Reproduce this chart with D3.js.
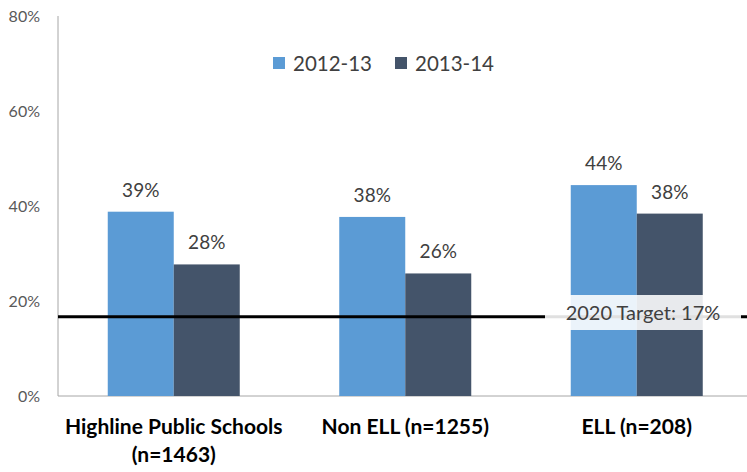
<!DOCTYPE html>
<html><head><meta charset="utf-8">
<script src="https://cdn.jsdelivr.net/npm/d3@7"></script>
<style>body{margin:0;background:#fff}svg{display:block}text{font-family:Lato,"Open Sans",sans-serif}</style>
</head><body>
<script>
const categories = [["Highline Public Schools","(n=1463)"],["Non ELL (n=1255)"],["ELL (n=208)"]];
const seriesNames = ["2012-13","2013-14"];
const values2012 = [38.8, 37.7, 44.4];
const values2013 = [27.7, 25.8, 38.4];
const yTicks = [0,20,40,60,80];
const targetValue = 17;
const targetLabel = "2020 Target: 17%";
const colors = ["#5B9BD5","#44546A"];

const W=747,H=472;
const svg=d3.select("body").append("svg").attr("width",W).attr("height",H);
const x0=58, y0=396, yTop=16;
const step=231.5;
const x=d3.scaleBand().domain(d3.range(categories.length)).range([x0,x0+step*categories.length]).paddingInner(0).paddingOuter(0);
const y=d3.scaleLinear().domain([0,80]).range([y0,yTop]);
const barW=66;
const xs=d3.scaleBand().domain(d3.range(2)).range([-barW,barW]);

// axes
svg.append("line").attr("x1",x0).attr("x2",x0).attr("y1",y(80)).attr("y2",y0).attr("stroke","#a6a6a6").attr("stroke-width",1);
svg.append("line").attr("x1",x0).attr("x2",W).attr("y1",y0).attr("y2",y0).attr("stroke","#a6a6a6").attr("stroke-width",1);
svg.selectAll(".yt").data(yTicks).enter().append("text").attr("x",40).attr("y",d=>y(d)+6)
 .attr("text-anchor","end").attr("font-size",16).attr("fill","#595959").text(d=>d+"%");

const data=[values2012,values2013];
data.forEach((vals,s)=>{
  const g=svg.append("g");
  g.selectAll("rect").data(vals).enter().append("rect")
   .attr("x",(d,i)=>x(i)+x.bandwidth()/2+xs(s)).attr("width",xs.bandwidth())
   .attr("y",d=>y(d)).attr("height",d=>y0-y(d)).attr("fill",colors[s]);
  g.selectAll("text").data(vals).enter().append("text")
   .attr("x",(d,i)=>x(i)+x.bandwidth()/2+xs(s)+xs.bandwidth()/2)
   .attr("y",d=>y(d)-15).attr("text-anchor","middle").attr("font-size",19).attr("fill","#404040")
   .text(d=>Math.round(d)+"%");
});

// target line
const ty=y(targetValue)+1.5;
svg.append("line").attr("x1",x0).attr("x2",W).attr("y1",ty).attr("y2",ty).attr("stroke","#000").attr("stroke-width",3);
svg.append("rect").attr("x",545).attr("y",295).attr("width",196).attr("height",35).attr("fill","#fff").attr("fill-opacity",0.88);
svg.append("text").attr("x",643).attr("y",ty+3).attr("text-anchor","middle").attr("font-size",20).attr("fill","#404040").text(targetLabel);

// category labels
categories.forEach((c,i)=>{
  const t=svg.append("text").attr("x",x(i)+x.bandwidth()/2).attr("y",434).attr("text-anchor","middle")
   .attr("font-size",21).attr("font-weight","bold").attr("fill","#000");
  c.forEach((line,j)=>t.append("tspan").attr("x",x(i)+x.bandwidth()/2).attr("dy",j?28:0).text(line));
});

// legend
const lg=[{x:273,t:seriesNames[0]},{x:395,t:seriesNames[1]}];
lg.forEach((l,i)=>{
  svg.append("rect").attr("x",l.x).attr("y",57).attr("width",12).attr("height",12).attr("fill",colors[i]);
  svg.append("text").attr("x",l.x+20).attr("y",71).attr("font-size",20.5).attr("fill","#404040").text(l.t);
});
</script>
</body></html>
